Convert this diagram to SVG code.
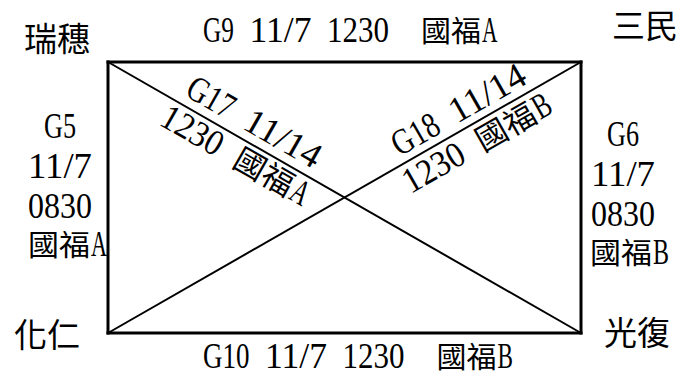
<svg xmlns="http://www.w3.org/2000/svg" width="683" height="379" viewBox="0 0 683 379">
<style>
.bg{fill:#fff}
.edge{stroke:#000;stroke-width:3;fill:none;stroke-linecap:square}
.diag{stroke:#000;stroke-width:2;fill:none}
text{fill:#000}
.lbl{font-family:"Liberation Serif","Noto Sans CJK TC",serif;font-size:35px}
.sm{font-size:36px}
.cjk{font-family:"Noto Sans CJK TC","Noto Sans CJK SC",sans-serif;font-size:29px}
.name{font-family:"Noto Sans CJK TC","Noto Sans CJK SC",sans-serif;font-size:33px}
</style>
<rect class="bg" x="0" y="0" width="683" height="379"/>
<g id="connectors">
  <line id="e-top" class="edge" x1="108" y1="62" x2="581" y2="62"/>
  <line id="e-bottom" class="edge" x1="108" y1="333" x2="581" y2="333"/>
  <line id="e-left" class="edge" x1="108" y1="62" x2="108" y2="333"/>
  <line id="e-right" class="edge" x1="581" y1="62" x2="581" y2="333"/>
  <line id="e-d1" class="diag" x1="108" y1="62" x2="581" y2="333"/>
  <line id="e-d2" class="diag" x1="108" y1="333" x2="581" y2="62"/>
</g>
<g id="edge-labels">
  <text id="lbl-top" class="lbl" y="42"><tspan x="203" textLength="31" lengthAdjust="spacingAndGlyphs">G9</tspan> <tspan x="249.5" textLength="62" lengthAdjust="spacingAndGlyphs">11/7</tspan> <tspan x="327" textLength="62" lengthAdjust="spacingAndGlyphs">1230</tspan> <tspan class="cjk" x="421" textLength="60" lengthAdjust="spacingAndGlyphs">國福</tspan><tspan x="482" textLength="15.5" lengthAdjust="spacingAndGlyphs">A</tspan></text>
  <text id="lbl-bottom" class="lbl" y="368"><tspan x="203" textLength="46.5" lengthAdjust="spacingAndGlyphs">G10</tspan> <tspan x="265" textLength="62" lengthAdjust="spacingAndGlyphs">11/7</tspan> <tspan x="342.5" textLength="62" lengthAdjust="spacingAndGlyphs">1230</tspan> <tspan class="cjk" x="436.5" textLength="60" lengthAdjust="spacingAndGlyphs">國福</tspan><tspan x="497.5" textLength="15.5" lengthAdjust="spacingAndGlyphs">B</tspan></text>
  <g id="lbl-left">
    <text class="lbl" y="138"><tspan x="44" textLength="32" lengthAdjust="spacingAndGlyphs">G5</tspan></text>
    <text class="lbl" y="178"><tspan x="28" textLength="64" lengthAdjust="spacingAndGlyphs">11/7</tspan></text>
    <text class="lbl" y="218"><tspan x="28" textLength="64" lengthAdjust="spacingAndGlyphs">0830</tspan></text>
    <text class="lbl" y="256"><tspan class="cjk" x="28" textLength="62" lengthAdjust="spacingAndGlyphs">國福</tspan><tspan x="91" textLength="16" lengthAdjust="spacingAndGlyphs">A</tspan></text>
  </g>
  <g id="lbl-right">
    <text class="lbl" y="146"><tspan x="607" textLength="32" lengthAdjust="spacingAndGlyphs">G6</tspan></text>
    <text class="lbl" y="186"><tspan x="591" textLength="64" lengthAdjust="spacingAndGlyphs">11/7</tspan></text>
    <text class="lbl" y="226"><tspan x="591" textLength="64" lengthAdjust="spacingAndGlyphs">0830</tspan></text>
    <text class="lbl" y="264"><tspan class="cjk" x="590" textLength="62" lengthAdjust="spacingAndGlyphs">國福</tspan><tspan x="653" textLength="16" lengthAdjust="spacingAndGlyphs">B</tspan></text>
  </g>
  <g id="lbl-d1" transform="translate(108 62) rotate(29.8)">
    <text class="lbl sm" y="-9"><tspan x="82" textLength="49.8" lengthAdjust="spacingAndGlyphs">G17</tspan> <tspan x="148.4" textLength="83" lengthAdjust="spacingAndGlyphs">11/14</tspan></text>
    <text class="lbl sm" y="29"><tspan x="74" textLength="66.4" lengthAdjust="spacingAndGlyphs">1230</tspan> <tspan class="cjk" style="font-size:31px" x="158" textLength="64" lengthAdjust="spacingAndGlyphs">國福</tspan><tspan x="223.4" textLength="16.6" lengthAdjust="spacingAndGlyphs">A</tspan></text>
  </g>
  <g id="lbl-d2" transform="translate(108 333) rotate(-29.8)">
    <text class="lbl sm" y="-8"><tspan x="340.5" textLength="49.8" lengthAdjust="spacingAndGlyphs">G18</tspan> <tspan x="406.9" textLength="83" lengthAdjust="spacingAndGlyphs">11/14</tspan></text>
    <text class="lbl sm" y="30"><tspan x="331.4" textLength="66.4" lengthAdjust="spacingAndGlyphs">1230</tspan> <tspan class="cjk" style="font-size:31px" x="415.4" textLength="64" lengthAdjust="spacingAndGlyphs">國福</tspan><tspan x="480.8" textLength="16.6" lengthAdjust="spacingAndGlyphs">B</tspan></text>
  </g>
</g>
<g id="node-ruisui"><text class="name" x="24" y="51">瑞穗</text></g>
<g id="node-sanmin"><text class="name" x="612" y="38">三民</text></g>
<g id="node-huaren"><text class="name" x="14" y="347">化仁</text></g>
<g id="node-guangfu"><text class="name" x="604" y="345">光復</text></g>
</svg>
